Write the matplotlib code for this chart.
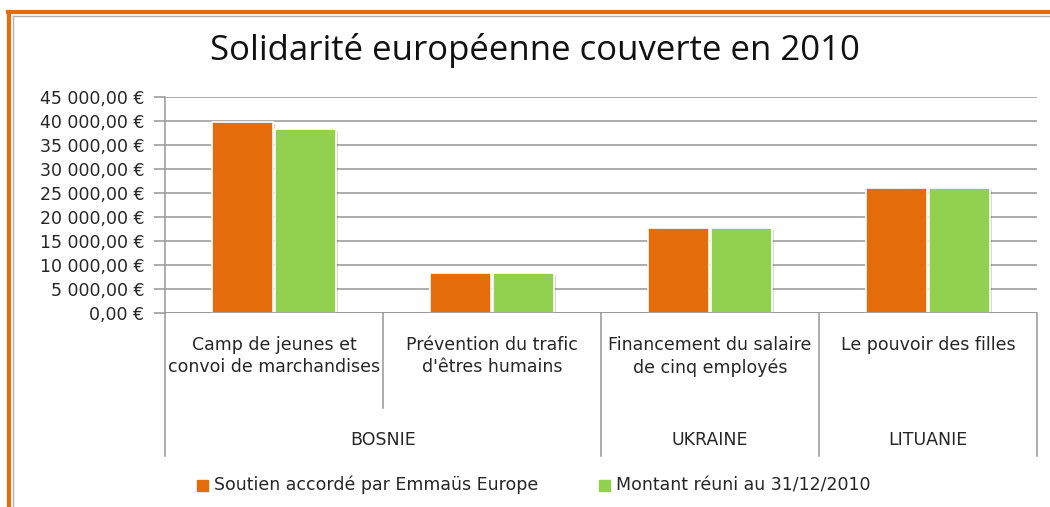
import matplotlib
matplotlib.use("Agg")
import matplotlib.pyplot as plt
import matplotlib.transforms as mtransforms
import matplotlib.patheffects as pe
from matplotlib.lines import Line2D
from matplotlib.patches import Rectangle
import numpy as np

plt.rcParams['font.family'] = ['DejaVu Sans']

titre = "Solidarité européenne couverte en 2010"
projets = ["Camp de jeunes et\nconvoi de marchandises",
           "Prévention du trafic\nd'êtres humains",
           "Financement du salaire\nde cinq employés",
           "Le pouvoir des filles"]
pays = ["BOSNIE", "UKRAINE", "LITUANIE"]
pays_span = [(0, 1), (2, 2), (3, 3)]
serie_noms = ["Soutien accordé par Emmaüs Europe", "Montant réuni au 31/12/2010"]
soutien = [39800, 8300, 17650, 26000]
montant = [38400, 8300, 17650, 26000]
yticks = [0, 5000, 10000, 15000, 20000, 25000, 30000, 35000, 40000, 45000]

ORANGE = "#E46C0A"
VERT = "#92D050"
GRIS = "#969696"
TXT = "#262626"
FS = 12.5

W, H = 1050, 507
fig = plt.figure(figsize=(W / 100, H / 100), dpi=100)

def fx(px):
    return px / W

def fy(py):
    return 1 - py / H

# cadre orange + gris
fig.add_artist(Line2D([fx(8), 1.0], [fy(12), fy(12)], color=ORANGE, lw=3))
fig.add_artist(Line2D([fx(9), fx(9)], [fy(12), 0], color=ORANGE, lw=3))
fig.add_artist(Line2D([fx(13), 1.0], [fy(15.5), fy(15.5)], color="#b0b0b0", lw=1))
fig.add_artist(Line2D([fx(13), fx(13)], [fy(15.5), 0], color="#b0b0b0", lw=1))

ax = fig.add_axes([fx(165), fy(313), fx(1037) - fx(165), (313 - 97) / H])

x = np.arange(len(projets))
bw = 0.28
ombre = [pe.SimplePatchShadow(offset=(1.5, -1.5), shadow_rgbFace="#000000", alpha=0.15), pe.Normal()]
b1 = ax.bar(x - bw / 2 - 0.005, soutien, bw, color=ORANGE, edgecolor="white", lw=1.2, zorder=3)
b2 = ax.bar(x + bw / 2 + 0.005, montant, bw, color=VERT, edgecolor="white", lw=1.2, zorder=3)
for b in list(b1) + list(b2):
    b.set_path_effects(ombre)

ax.set_xlim(-0.5, len(projets) - 0.5)
ax.set_ylim(0, 45000)
ax.set_yticks(yticks)
ax.set_yticklabels([f"{v:,.2f} €".replace(",", " ").replace(".", ",") for v in yticks],
                   fontsize=FS, color=TXT)
ax.tick_params(axis="y", length=8, color=GRIS, width=1.1, pad=7)
ax.set_xticks([])
ax.grid(axis="y", color=GRIS, lw=1.1, zorder=0)
for s in ["top", "right", "bottom"]:
    ax.spines[s].set_visible(False)
ax.spines["left"].set_color(GRIS)
ax.spines["left"].set_linewidth(1.1)
ax.axhline(0, color=GRIS, lw=1.2, zorder=4)

# axe des catégories hiérarchique
tr = mtransforms.blended_transform_factory(ax.transData, ax.transAxes)
h_in = (313 - 408) / 216
h_out = (313 - 456) / 216
fin_groupes = [-0.5] + [s[1] + 0.5 for s in pays_span]
for i in range(len(projets) + 1):
    xd = i - 0.5
    bas = h_out if xd in fin_groupes else h_in
    ax.add_line(Line2D([xd, xd], [0, bas], transform=tr, color=GRIS, lw=1.1, clip_on=False))
for i, p in enumerate(projets):
    ax.text(i, (313 - 336) / 216, p, transform=tr, ha="center", va="top", fontsize=FS,
            color=TXT, linespacing=1.3)
for nom, (a, b) in zip(pays, pays_span):
    ax.text((a + b) / 2, (313 - 440) / 216, nom, transform=tr, ha="center", va="center",
            fontsize=FS, color=TXT)

fig.text(fx(535), fy(50), titre, ha="center", va="center", fontsize=25, color="#111111",
         family=["Open Sans", "DejaVu Sans"])

# légende
for sx, col, nom in [(197, ORANGE, serie_noms[0]), (599, VERT, serie_noms[1])]:
    fig.add_artist(Rectangle((fx(sx), fy(490.5)), fx(11), 11 / H, color=col))
    fig.text(fx(sx + 17), fy(485), nom, ha="left", va="center", fontsize=FS, color=TXT)

fig.savefig("out.png", dpi=100, facecolor="white")
